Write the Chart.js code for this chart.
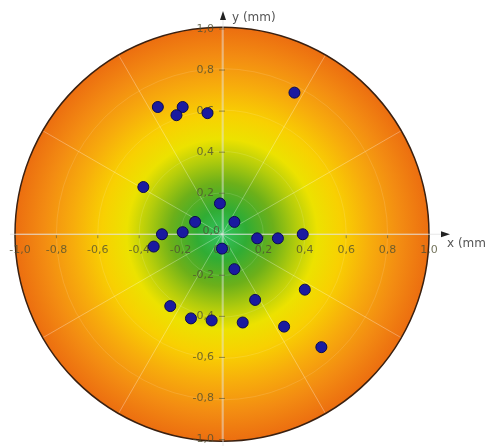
<!DOCTYPE html>
<html>
<head>
<meta charset="utf-8">
<script src="https://cdn.jsdelivr.net/npm/chart.js@4"></script>
<style>
    html, body { margin: 0; padding: 0; background: #fff; }
    #wrap { width: 487px; height: 446px; }
</style>
</head>
<body>
<div id="wrap"><canvas id="targetChart" width="487" height="446"></canvas></div>
<script>
// measured hit positions (mm)
const xValues = [-0.31, -0.19, -0.22, -0.07, 0.35, -0.38, -0.01, -0.13, 0.06, -0.29, -0.19, -0.33, 0.00,
    0.17, 0.27, 0.39, 0.06, 0.40, 0.16, -0.25, -0.15, -0.05, 0.10, 0.30, 0.48];
const yValues = [0.62, 0.62, 0.58, 0.59, 0.69, 0.23, 0.15, 0.06, 0.06, 0.00, 0.01, -0.06, -0.07,
    -0.02, -0.02, 0.00, -0.17, -0.27, -0.32, -0.35, -0.41, -0.42, -0.43, -0.45, -0.55];
const tickValues = [-1.0, -0.8, -0.6, -0.4, -0.2, 0.0, 0.2, 0.4, 0.6, 0.8, 1.0];

function fmt(v) {
    return v.toFixed(1).replace('.', ',');
}

// target disc, grid and axes drawn under the points
const targetPlugin = {
    id: 'target',
    beforeDatasetsDraw(chart) {
        const ctx = chart.ctx;
        const xs = chart.scales.x;
        const ys = chart.scales.y;
        const cx = xs.getPixelForValue(0);
        const cy = ys.getPixelForValue(0);
        const r = xs.getPixelForValue(1) - cx;

        ctx.save();
        const grad = ctx.createRadialGradient(cx, cy, 0, cx, cy, r);
        grad.addColorStop(0, '#32c462');
        grad.addColorStop(0.12, '#30ac34');
        grad.addColorStop(0.25, '#6cb01a');
        grad.addColorStop(0.36, '#b2cc0c');
        grad.addColorStop(0.46, '#ece200');
        grad.addColorStop(0.58, '#f8d002');
        grad.addColorStop(0.72, '#f7ac0c');
        grad.addColorStop(0.86, '#f38c12');
        grad.addColorStop(1, '#ec6e10');
        ctx.beginPath();
        ctx.arc(cx, cy, r, 0, Math.PI * 2);
        ctx.fillStyle = grad;
        ctx.fill();

        // faint polar grid
        ctx.strokeStyle = 'rgba(255,255,255,0.3)';
        ctx.lineWidth = 1;
        for (let a = 0; a < 360; a += 30) {
            const t = a * Math.PI / 180;
            ctx.beginPath();
            ctx.moveTo(cx, cy);
            ctx.lineTo(cx + r * Math.cos(t), cy - r * Math.sin(t));
            ctx.stroke();
        }
        ctx.strokeStyle = 'rgba(255,255,255,0.12)';
        [0.2, 0.4, 0.6, 0.8].forEach(v => {
            ctx.beginPath();
            ctx.arc(cx, cy, xs.getPixelForValue(v) - cx, 0, Math.PI * 2);
            ctx.stroke();
        });

        // rim
        ctx.beginPath();
        ctx.arc(cx, cy, r, 0, Math.PI * 2);
        ctx.strokeStyle = '#3a2010';
        ctx.lineWidth = 1.5;
        ctx.stroke();

        // axes
        ctx.strokeStyle = 'rgba(225,225,225,0.8)';
        ctx.lineWidth = 1;
        ctx.beginPath();
        ctx.moveTo(10, cy);
        ctx.lineTo(444, cy);
        ctx.moveTo(cx + 1, chart.height);
        ctx.lineTo(cx + 1, 16);
        ctx.stroke();

        ctx.fillStyle = '#222';
        ctx.beginPath();
        ctx.moveTo(450, cy);
        ctx.lineTo(441, cy - 3);
        ctx.lineTo(441, cy + 3);
        ctx.closePath();
        ctx.fill();
        ctx.beginPath();
        ctx.moveTo(cx + 1, 11);
        ctx.lineTo(cx - 2, 20);
        ctx.lineTo(cx + 4, 20);
        ctx.closePath();
        ctx.fill();

        // ticks and labels
        ctx.font = '11px "DejaVu Sans", sans-serif';
        ctx.fillStyle = 'rgba(80,80,50,0.8)';
        ctx.strokeStyle = 'rgba(80,80,50,0.6)';
        tickValues.forEach(v => {
            const px = xs.getPixelForValue(v);
            if (v !== 0) {
                ctx.beginPath();
                ctx.moveTo(px, cy + 1);
                ctx.lineTo(px, cy + 4);
                ctx.stroke();
            }
            ctx.textAlign = 'center';
            ctx.textBaseline = 'middle';
            ctx.fillText(fmt(v), px + (v === -1 ? 5 : 0), cy + 16);
        });
        tickValues.forEach(v => {
            if (v === 0) return;
            const py = ys.getPixelForValue(v);
            ctx.beginPath();
            ctx.moveTo(cx - 3, py);
            ctx.lineTo(cx + 3, py);
            ctx.stroke();
            ctx.textAlign = 'right';
            ctx.textBaseline = 'middle';
            ctx.fillText(fmt(v), cx - 8, py);
        });
        ctx.textAlign = 'right';
        ctx.fillText(fmt(0), cx - 2, cy - 3);

        // axis titles
        ctx.font = '12px "DejaVu Sans", sans-serif';
        ctx.fillStyle = '#555';
        ctx.textAlign = 'left';
        ctx.textBaseline = 'middle';
        ctx.fillText('y (mm)', cx + 10, 18);
        ctx.fillText('x (mm)', 447, cy + 10);
        ctx.restore();
    }
};

const points = xValues.map((x, i) => ({ x: x, y: yValues[i] }));

new Chart(document.getElementById('targetChart'), {
    type: 'scatter',
    data: {
        datasets: [{
            data: points,
            backgroundColor: '#1a1aa0',
            borderColor: '#0b0b50',
            borderWidth: 1,
            pointRadius: 5.5,
            pointHoverRadius: 5.5
        }]
    },
    options: {
        responsive: false,
        animation: false,
        layout: { padding: { left: 15, right: 58, top: 29, bottom: 2 } },
        plugins: {
            legend: { display: false },
            tooltip: { enabled: false }
        },
        scales: {
            x: { type: 'linear', min: -1, max: 1, display: false },
            y: { type: 'linear', min: -1, max: 1, display: false }
        }
    },
    plugins: [targetPlugin]
});
</script>
</body>
</html>
